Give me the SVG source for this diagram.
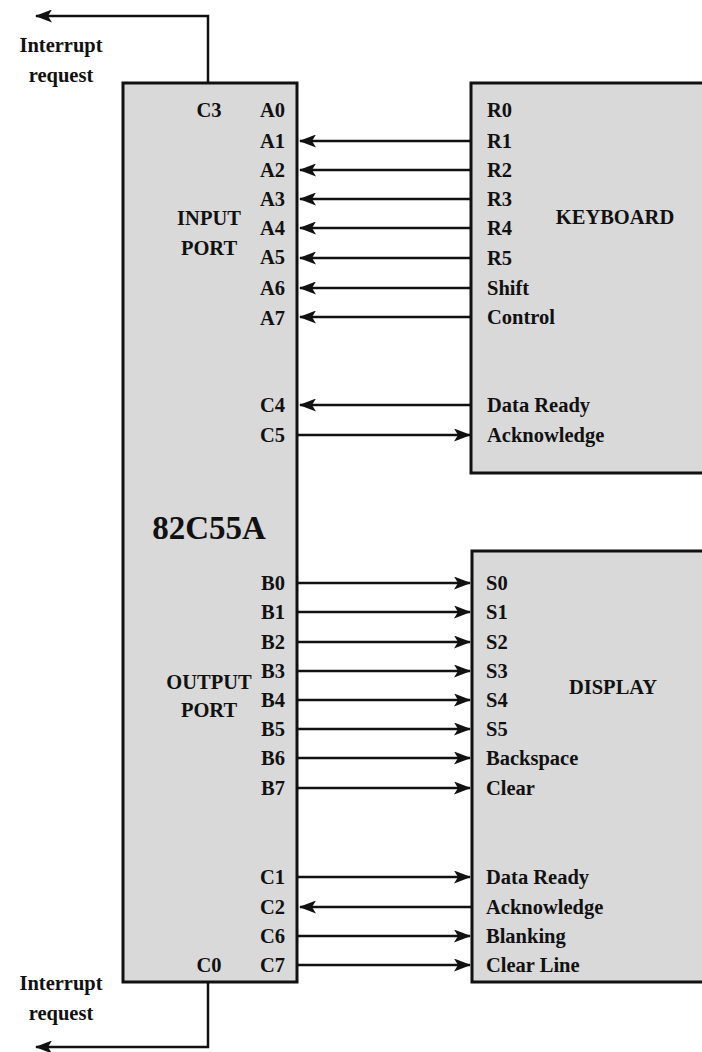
<svg xmlns="http://www.w3.org/2000/svg" width="702" height="1052" viewBox="0 0 702 1052">
<style>
text{font-family:"Liberation Serif","Times New Roman",serif;font-weight:bold;font-size:20.5px;fill:#111}
.box{fill:#d9d9d9;stroke:#111;stroke-width:3}
.ln{stroke:#111;stroke-width:2.5;fill:none}
.r{text-anchor:end}
.m{text-anchor:middle}
</style>
<defs>
<marker id="ah" viewBox="0 0 17 13" markerWidth="17" markerHeight="13" refX="16" refY="6.5" orient="auto" markerUnits="userSpaceOnUse">
<path d="M0,0 L17,6.5 L0,13 L4,6.5 z" fill="#111"/>
</marker>
</defs>
<g id="connectors">
<polyline class="ln" points="208,83 208,16 36,16" marker-end="url(#ah)"/>
<polyline class="ln" points="208,982 208,1047 36,1047" marker-end="url(#ah)"/>
<line class="ln" x1="471" y1="141" x2="300" y2="141" marker-end="url(#ah)"/>
<line class="ln" x1="471" y1="170" x2="300" y2="170" marker-end="url(#ah)"/>
<line class="ln" x1="471" y1="199" x2="300" y2="199" marker-end="url(#ah)"/>
<line class="ln" x1="471" y1="228" x2="300" y2="228" marker-end="url(#ah)"/>
<line class="ln" x1="471" y1="258" x2="300" y2="258" marker-end="url(#ah)"/>
<line class="ln" x1="471" y1="288" x2="300" y2="288" marker-end="url(#ah)"/>
<line class="ln" x1="471" y1="317" x2="300" y2="317" marker-end="url(#ah)"/>
<line class="ln" x1="471" y1="405" x2="300" y2="405" marker-end="url(#ah)"/>
<line class="ln" x1="298" y1="435" x2="470" y2="435" marker-end="url(#ah)"/>
<line class="ln" x1="298" y1="583" x2="470" y2="583" marker-end="url(#ah)"/>
<line class="ln" x1="298" y1="612" x2="470" y2="612" marker-end="url(#ah)"/>
<line class="ln" x1="298" y1="642" x2="470" y2="642" marker-end="url(#ah)"/>
<line class="ln" x1="298" y1="671" x2="470" y2="671" marker-end="url(#ah)"/>
<line class="ln" x1="298" y1="700" x2="470" y2="700" marker-end="url(#ah)"/>
<line class="ln" x1="298" y1="729" x2="470" y2="729" marker-end="url(#ah)"/>
<line class="ln" x1="298" y1="758" x2="470" y2="758" marker-end="url(#ah)"/>
<line class="ln" x1="298" y1="788" x2="470" y2="788" marker-end="url(#ah)"/>
<line class="ln" x1="298" y1="877" x2="470" y2="877" marker-end="url(#ah)"/>
<line class="ln" x1="472" y1="907" x2="300" y2="907" marker-end="url(#ah)"/>
<line class="ln" x1="298" y1="936" x2="470" y2="936" marker-end="url(#ah)"/>
<line class="ln" x1="298" y1="965" x2="470" y2="965" marker-end="url(#ah)"/>
</g>
<g id="irq-labels">
<text x="61" y="52" class="m">Interrupt</text>
<text x="61" y="82" class="m">request</text>
<text x="61" y="990" class="m">Interrupt</text>
<text x="61" y="1020" class="m">request</text>
</g>
<g id="chip">
<rect class="box" x="123" y="83" width="174" height="899"/>
<text x="209" y="117" class="m">C3</text>
<text x="285" y="117" class="r">A0</text>
<text x="285" y="148" class="r">A1</text>
<text x="285" y="177" class="r">A2</text>
<text x="285" y="206" class="r">A3</text>
<text x="285" y="235" class="r">A4</text>
<text x="285" y="264" class="r">A5</text>
<text x="285" y="295" class="r">A6</text>
<text x="285" y="325" class="r">A7</text>
<text x="285" y="412" class="r">C4</text>
<text x="285" y="442" class="r">C5</text>
<text x="209" y="225" class="m">INPUT</text>
<text x="209" y="255" class="m">PORT</text>
<text x="209" y="539" class="m" style="font-size:33px">82C55A</text>
<text x="285" y="590" class="r">B0</text>
<text x="285" y="619" class="r">B1</text>
<text x="285" y="649" class="r">B2</text>
<text x="285" y="678" class="r">B3</text>
<text x="285" y="707" class="r">B4</text>
<text x="285" y="736" class="r">B5</text>
<text x="285" y="765" class="r">B6</text>
<text x="285" y="795" class="r">B7</text>
<text x="209" y="689" class="m">OUTPUT</text>
<text x="209" y="717" class="m">PORT</text>
<text x="285" y="884" class="r">C1</text>
<text x="285" y="914" class="r">C2</text>
<text x="285" y="943" class="r">C6</text>
<text x="285" y="972" class="r">C7</text>
<text x="209" y="972" class="m">C0</text>
</g>
<g id="keyboard">
<rect class="box" x="471" y="83" width="240" height="390"/>
<text x="487" y="117">R0</text>
<text x="487" y="148">R1</text>
<text x="487" y="177">R2</text>
<text x="487" y="206">R3</text>
<text x="487" y="235">R4</text>
<text x="487" y="265">R5</text>
<text x="487" y="295">Shift</text>
<text x="487" y="324">Control</text>
<text x="487" y="412">Data Ready</text>
<text x="487" y="442">Acknowledge</text>
<text x="615" y="224" class="m">KEYBOARD</text>
</g>
<g id="display">
<rect class="box" x="472" y="551" width="240" height="431"/>
<text x="486" y="590">S0</text>
<text x="486" y="619">S1</text>
<text x="486" y="649">S2</text>
<text x="486" y="678">S3</text>
<text x="486" y="707">S4</text>
<text x="486" y="736">S5</text>
<text x="486" y="765">Backspace</text>
<text x="486" y="795">Clear</text>
<text x="486" y="884">Data Ready</text>
<text x="486" y="914">Acknowledge</text>
<text x="486" y="943">Blanking</text>
<text x="486" y="972">Clear Line</text>
<text x="613" y="694" class="m">DISPLAY</text>
</g>
</svg>
